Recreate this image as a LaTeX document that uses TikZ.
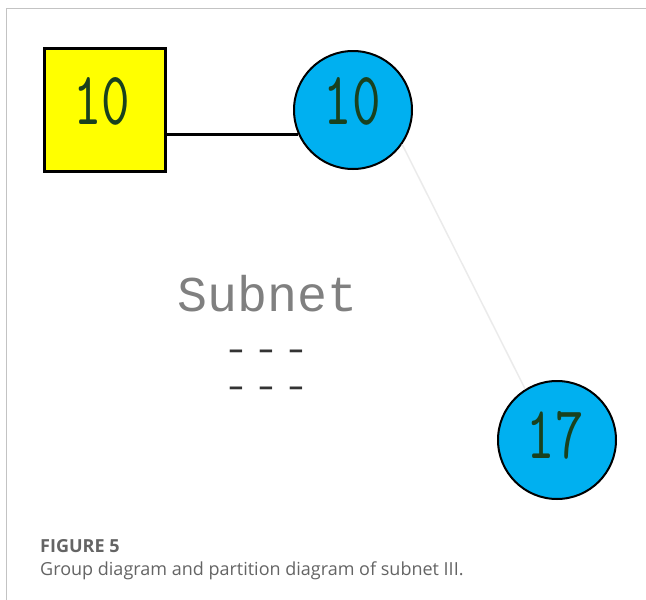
\documentclass[tikz,border=0pt]{standalone}
\usepackage{fontspec}
\setmainfont{Open Sans}
\newfontfamily\monofont{Liberation Mono}
\definecolor{nodeblue}{RGB}{0,176,240}
\definecolor{nodeyellow}{RGB}{255,255,0}
\definecolor{digitink}{RGB}{25,65,30}
\definecolor{framegray}{RGB}{195,195,195}
\definecolor{captiongray}{RGB}{100,100,100}
% vertex numbers: Latin Modern Mono digits stretched to a fixed box
\newcommand{\vlabel}[1]{\resizebox{57pt}{47pt}{\ttfamily #1}}
\tikzset{
  numlabel/.style={text=digitink, inner sep=0pt},
  groupbox/.style={draw=black, line width=3.5pt, fill=nodeyellow, minimum width=121pt, minimum height=123pt, inner sep=0pt},
  vertex/.style={circle, draw=black, line width=2pt, fill=nodeblue, minimum size=118pt, inner sep=0pt},
  subnettext/.style={font=\monofont\fontsize{50}{50}\selectfont, text=black!50, inner sep=0pt, anchor=base},
  dashtext/.style={font=\monofont\bfseries\fontsize{28}{28}\selectfont, text=black!80, inner sep=0pt, anchor=base},
  captionhead/.style={font=\bfseries\fontsize{18}{20}\selectfont, text=captiongray, anchor=base west, inner sep=0pt},
  captionbody/.style={font=\fontsize{18}{20}\selectfont, text=captiongray, anchor=base west, inner sep=0pt}
}
\begin{document}
\begin{tikzpicture}[x=1pt, y=-1pt]
  \useasboundingbox (0,0) rectangle (646,600);
  % page frame
  \draw[framegray, line width=1pt] (6,600) -- (6,8) -- (646,8);

  % group node and vertices
  \node[groupbox] (sq) at (105,110) {};
  \node[numlabel] (sqlabel) at (102,101.5) {\vlabel{10}};
  \node[vertex] (c1) at (353,110) {};
  \node[numlabel] (c1label) at (352,101.5) {\vlabel{10}};
  \node[vertex] (c2) at (557,440) {};
  \node[numlabel] (c2label) at (555,435) {\vlabel{17}};

  % connectors
  \draw[black, line width=3pt] (sq.east |- c1.204) -- (c1.204);
  \draw[black!8, line width=1.5pt] (c1.-35) -- (c2.122);

  % partition label
  \node[subnettext] (sub) at (268,311) {Subnet};
  \node[dashtext] (d1) at (266,358) {–\hspace{13.2pt}–\hspace{13.2pt}–};
  \node[dashtext] (d2) at (266,395) {–\hspace{13.2pt}–\hspace{13.2pt}–};

  % caption
  \node[captionhead] (fig) at (40,552) {FIGURE 5};
  \node[captionbody] (cap) at (40,575) {Group diagram and partition diagram of subnet III.};
\end{tikzpicture}
\end{document}
